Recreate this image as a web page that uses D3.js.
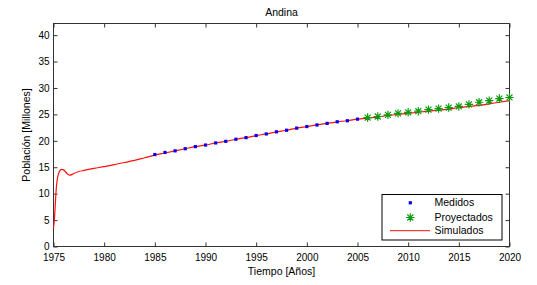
<!DOCTYPE html>
<html><head><meta charset="utf-8">
<script src="https://cdn.jsdelivr.net/npm/d3@7/dist/d3.min.js"></script>
<style>body{margin:0;background:#fff}svg{display:block;font-family:"Liberation Sans",Arial,sans-serif}</style>
</head><body><svg id="c" width="537" height="285"></svg>
<script>
const title = "Andina";
const xLabel = "Tiempo [Años]";
const yLabel = "Población [Millones]";
const xTicks = [1975,1980,1985,1990,1995,2000,2005,2010,2015,2020];
const yTicks = [0,5,10,15,20,25,30,35,40];
const medidosYears = [1985,1986,1987,1988,1989,1990,1991,1992,1993,1994,1995,1996,1997,1998,1999,2000,2001,2002,2003,2004,2005];
const medidosValues = [17.4,17.8,18.1,18.5,18.9,19.2,19.6,19.9,20.3,20.6,21.0,21.3,21.7,22.0,22.4,22.7,23.0,23.3,23.6,23.8,24.1];
const proyYears = [2006,2007,2008,2009,2010,2011,2012,2013,2014,2015,2016,2017,2018,2019,2020];
const proyValues = [24.4,24.6,24.9,25.2,25.4,25.6,25.9,26.1,26.3,26.5,26.9,27.3,27.6,28.0,28.2];
const simYears = [1975,1975.1,1975.2,1975.3,1975.4,1975.5,1975.65,1975.8,1976,1976.2,1976.4,1976.6,1976.8,1977,1977.5,1978,1979,1980,1981,1982,1983,1984,1985,1986,1987,1988,1989,1990,1991,1992,1993,1994,1995,1996,1997,1998,1999,2000,2001,2002,2003,2004,2005,2006,2007,2008,2009,2010,2011,2012,2013,2014,2015,2016,2017,2018,2019,2020];
const simValues = [3.5,5.4,8.8,11.6,13.0,13.8,14.4,14.6,14.5,14.1,13.7,13.5,13.6,13.8,14.2,14.4,14.8,15.1,15.5,15.9,16.3,16.8,17.3,17.7,18.1,18.5,18.9,19.2,19.6,19.9,20.3,20.6,21.0,21.3,21.7,22.0,22.4,22.7,23.0,23.3,23.6,23.8,24.1,24.3,24.5,24.8,25.0,25.2,25.4,25.6,25.8,26.0,26.3,26.5,26.7,27.0,27.3,27.6];

const svg = d3.select("#c");
const m = {l:53.5, r:509.5, t:23.5, b:246.5};
const x = d3.scaleLinear().domain([1975,2020]).range([m.l,m.r]);
const y = d3.scaleLinear().domain([0,42.2]).range([m.b,m.t]);
const axisColor = "#333";
const fs = "10px";

function styleAxis(g, hide){
  g.select(".domain").remove();
  g.selectAll(".tick line").attr("stroke",axisColor);
  g.selectAll(".tick text").attr("fill","#000").style("font-size",fs).style("font-family","'Liberation Sans',Arial,sans-serif");
  if(hide) g.selectAll(".tick text").remove();
}
svg.append("g").attr("transform",`translate(0,${m.b})`)
  .call(d3.axisTop(x).tickValues(xTicks).tickFormat(d3.format("d")).tickSize(4)).call(g=>styleAxis(g))
  .call(g=>g.selectAll(".tick text").attr("y",7).attr("dy","0.71em"));
svg.append("g").attr("transform",`translate(0,${m.t})`)
  .call(d3.axisBottom(x).tickValues(xTicks).tickSize(4)).call(g=>styleAxis(g,true));
svg.append("g").attr("transform",`translate(${m.l},0)`)
  .call(d3.axisRight(y).tickValues(yTicks).tickSize(4)).call(g=>styleAxis(g))
  .call(g=>g.selectAll(".tick text").attr("x",-4).attr("text-anchor","end"));
svg.append("g").attr("transform",`translate(${m.r},0)`)
  .call(d3.axisLeft(y).tickValues(yTicks).tickSize(4)).call(g=>styleAxis(g,true));
svg.append("rect").attr("x",m.l).attr("y",m.t).attr("width",m.r-m.l).attr("height",m.b-m.t)
  .attr("fill","none").attr("stroke",axisColor).attr("stroke-width",1);

const clip = svg.append("g");
const sim = simYears.map((d,i)=>[d,simValues[i]]);
clip.append("path").datum(sim).attr("fill","none").attr("stroke","#ff1010").attr("stroke-width",1.2)
  .attr("d",d3.line().x(d=>x(d[0])).y(d=>y(d[1])).curve(d3.curveMonotoneX));

clip.selectAll(".med").data(medidosYears).join("rect")
  .attr("x",(d)=>x(d)-1.6).attr("y",(d,i)=>y(medidosValues[i])-1.6).attr("width",3.2).attr("height",3.2).attr("fill","#0000ee");

function star(g, cx, cy, r){
  const a = r*0.707;
  g.append("path").attr("d",`M${cx-r},${cy}H${cx+r}M${cx},${cy-r}V${cy+r}M${cx-a},${cy-a}L${cx+a},${cy+a}M${cx-a},${cy+a}L${cx+a},${cy-a}`)
    .attr("stroke","#109a10").attr("stroke-width",1.2).attr("fill","none");
}
const pg = svg.append("g");
proyYears.forEach((d,i)=>star(pg, x(d), y(proyValues[i]), 4.2));

// legend
const lg = svg.append("g");
lg.append("rect").attr("x",382).attr("y",194.5).attr("width",120).attr("height",45.5).attr("fill","#fff").attr("stroke","#000").attr("stroke-width",1);
lg.append("rect").attr("x",408.7).attr("y",201.2).attr("width",3.2).attr("height",3.2).attr("fill","#0000ee");
star(lg, 410.3, 217.5, 4.2);
lg.append("line").attr("x1",390).attr("x2",430).attr("y1",230.7).attr("y2",230.7).attr("stroke","#ff1010").attr("stroke-width",1);
const lt = [["Medidos",202.7],["Proyectados",217.5],["Simulados",230.7]];
lg.selectAll("text.l").data(lt).join("text").attr("x",434.5).attr("y",d=>d[1]).attr("dy","0.35em")
  .style("font-size","10.5px").text(d=>d[0]);

svg.append("text").attr("x",(m.l+m.r)/2).attr("y",16).attr("text-anchor","middle").style("font-size","10.5px").text(title);
svg.append("text").attr("x",(m.l+m.r)/2).attr("y",275).attr("text-anchor","middle").style("font-size","10.5px").text(xLabel);
svg.append("text").attr("transform",`translate(30,${(m.t+m.b)/2}) rotate(-90)`).attr("text-anchor","middle").style("font-size","10.5px").text(yLabel);
</script></body></html>
